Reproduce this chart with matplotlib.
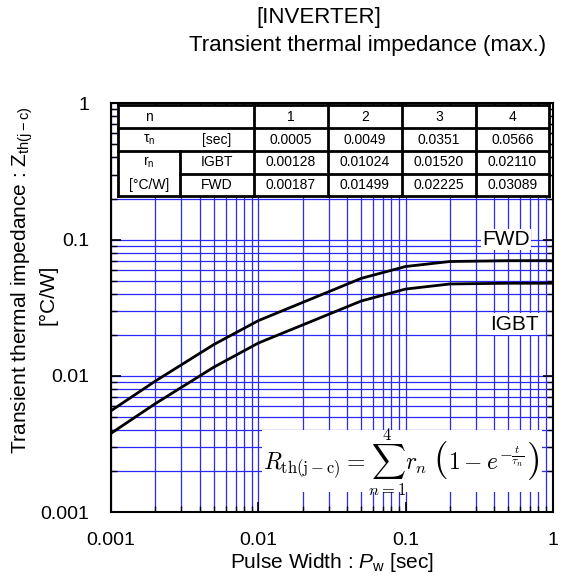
import matplotlib
matplotlib.use("Agg")
import matplotlib.pyplot as plt
from matplotlib.ticker import LogLocator, NullFormatter
from matplotlib.patches import Rectangle

plt.rcParams['font.family'] = ['Liberation Sans', 'DejaVu Sans']
plt.rcParams['mathtext.fontset'] = 'custom'
plt.rcParams['mathtext.rm'] = 'Liberation Sans'
plt.rcParams['mathtext.it'] = 'Liberation Sans:italic'
plt.rcParams['mathtext.bf'] = 'Liberation Sans:bold'

# table values
n_idx = ['1', '2', '3', '4']
tau_n = ['0.0005', '0.0049', '0.0351', '0.0566']
r_igbt = ['0.00128', '0.01024', '0.01520', '0.02110']
r_fwd = ['0.00187', '0.01499', '0.02225', '0.03089']

# curve points
pulse = [0.001, 0.002, 0.005, 0.01, 0.05, 0.1, 0.2, 0.5, 1.0]
z_fwd = [0.00555, 0.00916, 0.0170, 0.0254, 0.0519, 0.0634, 0.0690, 0.0700, 0.0700]
z_igbt = [0.00379, 0.00626, 0.0116, 0.0174, 0.0354, 0.0433, 0.0472, 0.0478, 0.0478]

W, H = 564, 580
fig = plt.figure(figsize=(W / 100, H / 100), dpi=100)
ax = fig.add_axes([0.197, 0.117, 0.783, 0.705])

ax.plot(pulse, z_fwd, color='black', lw=2, zorder=5)
ax.plot(pulse, z_igbt, color='black', lw=2, zorder=5)

ax.set_xscale('log')
ax.set_yscale('log')
ax.set_xlim(0.001, 1)
ax.set_ylim(0.001, 1)
ax.set_xticks([0.001, 0.01, 0.1, 1], labels=['0.001', '0.01', '0.1', '1'])
ax.set_yticks([0.001, 0.01, 0.1, 1], labels=['0.001', '0.01', '0.1', '1'])
for a in (ax.xaxis, ax.yaxis):
    a.set_minor_locator(LogLocator(base=10, subs=range(2, 10)))
    a.set_minor_formatter(NullFormatter())

ax.set_axisbelow(True)
ax.grid(which='both', color='#2828ff', lw=0.9)
ax.tick_params(which='both', direction='in', top=True, right=True, labelsize=14)
ax.tick_params(which='major', length=7, width=1.2)
ax.tick_params(which='minor', length=4, width=1)
ax.tick_params(axis='y', pad=16)
ax.tick_params(axis='x', pad=14)
for s in ax.spines.values():
    s.set_linewidth(1.5)

# labels on curves
ax.text(0.48, 0.1, 'FWD', fontsize=15, ha='center', va='center', zorder=6,
        bbox=dict(fc='white', ec='none', pad=1))
ax.text(0.55, 0.024, 'IGBT', fontsize=15, ha='center', va='center', zorder=6,
        bbox=dict(fc='white', ec='none', pad=1))

# formula box
ax.add_patch(Rectangle((0.342, 0.049), 0.633, 0.151, transform=ax.transAxes,
                       fc='white', ec='none', zorder=1))
parts = [(r'$R_{\mathrm{th(j-c)}} = \sum_{n=1}^{4} r_n$', 17),
         (r'$($', 27),
         (r'$1 - e^{-\frac{t}{\tau_n}}$', 17),
         (r'$)$', 27)]
ftexts = [fig.text(0, 0, s, fontsize=f, math_fontfamily='cm', ha='left',
                   va='baseline', zorder=6) for s, f in parts]
rend = fig.canvas.get_renderer()
widths = [t.get_window_extent(rend).width for t in ftexts]
gaps = [5, 1, 1, 0]
x = 401 - (sum(widths) + sum(gaps)) / 2
for t, w, g in zip(ftexts, widths, gaps):
    t.set_position((x / W, 1 - 470 / H))
    x += w + g

# parameter table
cols = [0.0158, 0.156, 0.3235, 0.491, 0.658, 0.826, 0.991]
rows = [0.995, 0.939, 0.883, 0.828, 0.773]
ax.add_patch(Rectangle((cols[0], rows[4]), cols[6] - cols[0], rows[0] - rows[4],
                       transform=ax.transAxes, fc='white', ec='none', zorder=3))
kw = dict(color='black', lw=2, transform=ax.transAxes, zorder=4, clip_on=False,
          solid_capstyle='projecting')
for y in (rows[0], rows[1], rows[2], rows[4]):
    ax.plot([cols[0], cols[6]], [y, y], **kw)
ax.plot([cols[1], cols[6]], [rows[3], rows[3]], **kw)
for x in (cols[0], cols[2], cols[3], cols[4], cols[5], cols[6]):
    ax.plot([x, x], [rows[0], rows[4]], **kw)
ax.plot([cols[1], cols[1]], [rows[2], rows[4]], **kw)

def cell(x, y, s):
    ax.text(x, y, s, fontsize=10, ha='center', va='center',
            transform=ax.transAxes, zorder=6)

def mid(i):
    return (rows[i] + rows[i + 1]) / 2

cc0 = (cols[0] + cols[1]) / 2
cc1 = (cols[1] + cols[2]) / 2
cell(cc0, mid(0), 'n')
cell(cc0, mid(1), 'τ$_\\mathregular{n}$')
cell(cc1, mid(1), '[sec]')
cell(cc0, mid(2), 'r$_\\mathregular{n}$')
cell(cc0, mid(3), '[°C/W]')
cell(cc1, mid(2), 'IGBT')
cell(cc1, mid(3), 'FWD')
for j in range(4):
    cx = (cols[j + 2] + cols[j + 3]) / 2
    cell(cx, mid(0), n_idx[j])
    cell(cx, mid(1), tau_n[j])
    cell(cx, mid(2), r_igbt[j])
    cell(cx, mid(3), r_fwd[j])

# titles and axis labels
fig.text(319 / W, 1 - 18 / H, '[INVERTER]', fontsize=16, ha='center', va='center')
fig.text(368 / W, 1 - 45 / H, 'Transient thermal impedance (max.)', fontsize=16,
         ha='center', va='center')
fig.text(22 / W, 1 - 280 / H, 'Transient thermal impedance : Z$_\\mathregular{th(j-c)}$',
         rotation=90, fontsize=15, ha='center', va='center')
fig.text(48 / W, 1 - 295 / H, '[°C/W]', rotation=90, fontsize=15,
         ha='center', va='center')
fig.text(332 / W, 1 - 563 / H, 'Pulse Width : $\\mathit{P}_\\mathregular{w}$ [sec]',
         fontsize=15, ha='center', va='center')

fig.savefig('out.png', dpi=100)
